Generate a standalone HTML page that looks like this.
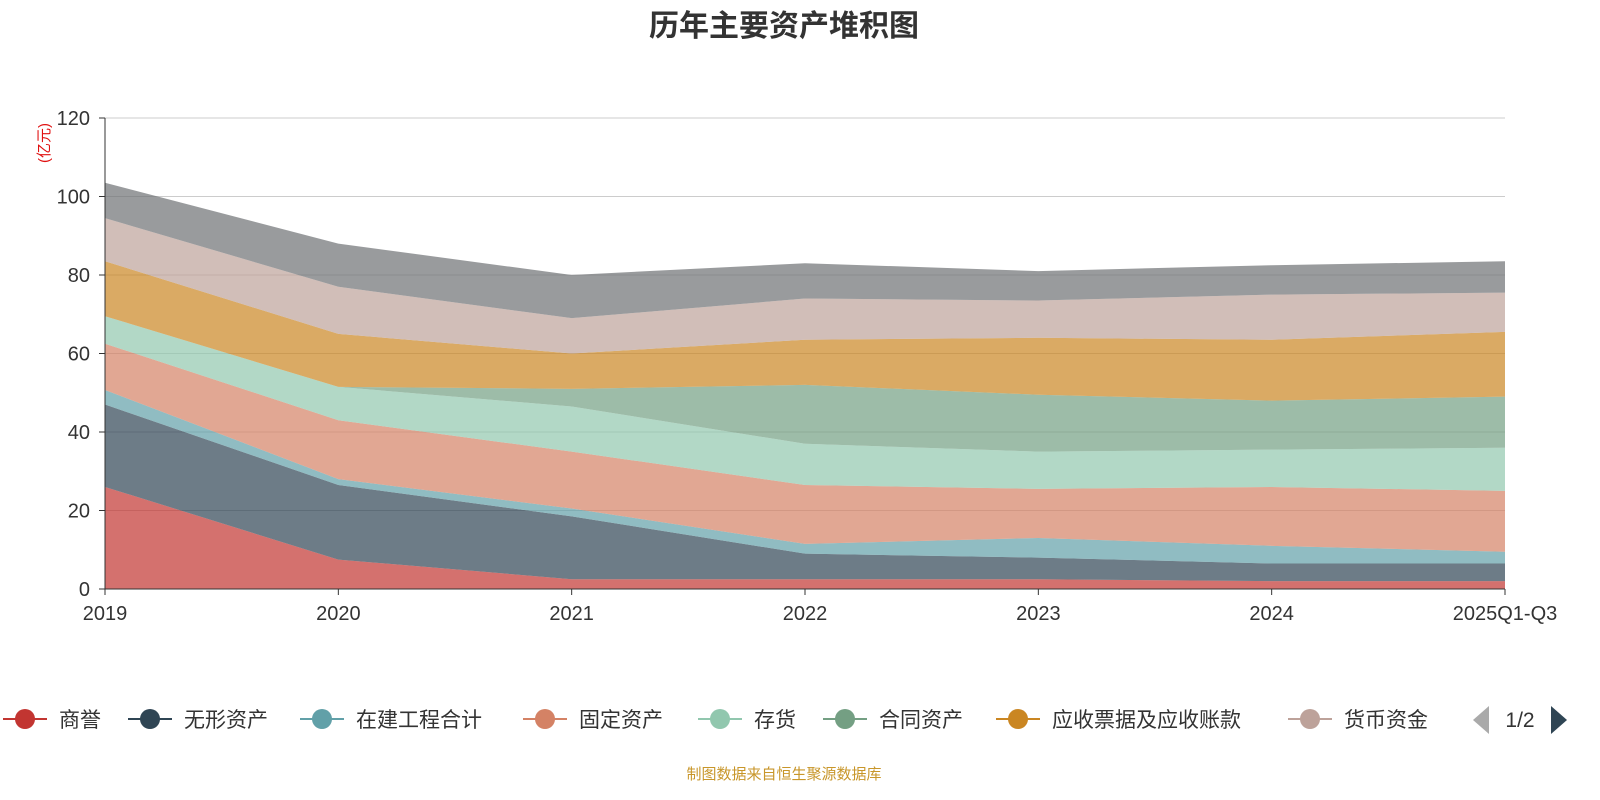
<!DOCTYPE html>
<html><head><meta charset="utf-8"><style>
body{margin:0;background:#fff;}
svg{display:block;font-family:"Liberation Sans","Noto Sans CJK SC",sans-serif;}
</style></head><body>
<svg id="chart" width="1600" height="800">
<text x="784" y="36" text-anchor="middle" font-size="30" font-weight="bold" fill="#333">历年主要资产堆积图</text>
<text x="0" y="0" transform="translate(49,143) rotate(-90)" text-anchor="middle" font-size="15" fill="#e01010">(亿元)</text>
<g id="grid"></g><g id="areas"></g><g id="axes"></g><g id="legend"></g>
<text x="784" y="779" text-anchor="middle" font-size="15" fill="#c8962a">制图数据来自恒生聚源数据库</text>
</svg>
<script>
const categories=["2019","2020","2021","2022","2023","2024","2025Q1-Q3"];
const seriesNames=["商誉","无形资产","在建工程合计","固定资产","存货","合同资产","应收票据及应收账款","货币资金","其他"];
const colors=["#c23531","#2f4554","#61a0a8","#d48265","#91c7ae","#749f83","#ca8622","#bda29a","#6e7074"];
const s0=[26,7.5,2.5,2.5,2.5,2,2];
const s1=[21,19,16,6.5,5.5,4.5,4.5];
const s2=[3.7,1.5,2,2.5,5,4.5,3];
const s3=[11.8,15,14.5,15,12.5,15,15.5];
const s4=[7,8.5,11.5,10.5,9.5,9.5,11];
const s5=[0,0,4.5,15,14.5,12.5,13];
const s6=[14,13.5,9,11.5,14.5,15.5,16.5];
const s7=[11,12,9,10.5,9.5,11.5,10];
const s8=[9,11,11,9,7.5,7.5,8];
const series=[s0,s1,s2,s3,s4,s5,s6,s7,s8];
const yTicks=[0,20,40,60,80,100,120];
const NS="http://www.w3.org/2000/svg";
const X0=105,X1=1505,Y0=589,Y1=118;
const xs=i=>X0+(X1-X0)*i/(categories.length-1);
const ys=v=>Y0-(Y0-Y1)*v/120;
function mk(t,a,p){const e=document.createElementNS(NS,t);for(const k in a)e.setAttribute(k,a[k]);p.appendChild(e);return e;}
const grid=document.getElementById('grid'),areas=document.getElementById('areas'),axes=document.getElementById('axes'),leg=document.getElementById('legend');
yTicks.forEach(v=>{
 if(v>0){const l=mk('line',{x1:X0,x2:X1,y1:ys(v),y2:ys(v),stroke:'#ccc'},grid);
 
 }
 const t=mk('text',{x:90,y:ys(v)+7,'text-anchor':'end','font-size':20,fill:'#333'},axes);t.textContent=v;
 
 
 mk('line',{x1:X0-6,x2:X0,y1:ys(v),y2:ys(v),stroke:'#333'},axes);
});
let base=categories.map(()=>0);
series.forEach((s,k)=>{
 const top=base.map((b,i)=>b+s[i]);
 let d='M'+top.map((v,i)=>xs(i)+','+ys(v)).join('L');
 for(let i=categories.length-1;i>=0;i--)d+='L'+xs(i)+','+ys(base[i]);
 const p=mk('path',{d:d+'Z',fill:colors[k],'fill-opacity':0.7},areas);
 
 
 base=top;
});
mk('line',{x1:X0,x2:X0,y1:Y1,y2:Y0,stroke:'#333'},axes);
mk('line',{x1:X0,x2:X1,y1:Y0,y2:Y0,stroke:'#333'},axes);
categories.forEach((c,i)=>{
 mk('line',{x1:xs(i),x2:xs(i),y1:Y0,y2:Y0+6,stroke:'#333'},axes);
 const t=mk('text',{x:xs(i),y:620,'text-anchor':'middle','font-size':20,fill:'#333'},axes);t.textContent=c;
 
 
});
const lx=[25,150,322,545,720,845,1018,1310];
lx.forEach((x,k)=>{
 const g=mk('g',{},leg);
 
 
 mk('line',{x1:x-22,x2:x+22,y1:719,y2:719,stroke:colors[k],'stroke-width':2},g);
 mk('circle',{cx:x,cy:719,r:10,fill:colors[k]},g);
 const t=mk('text',{x:x+34,y:727,'font-size':21,fill:'#333'},g);t.textContent=seriesNames[k];
});
const pl=mk('path',{d:'M1473,720L1489,706L1489,734Z',fill:'#aaa'},leg);


const pt=mk('text',{x:1520,y:727,'text-anchor':'middle','font-size':21,fill:'#333'},leg);pt.textContent='1/2';


const pn=mk('path',{d:'M1567,720L1551,706L1551,734Z',fill:'#2f4554'},leg);


</script>
</body></html>
